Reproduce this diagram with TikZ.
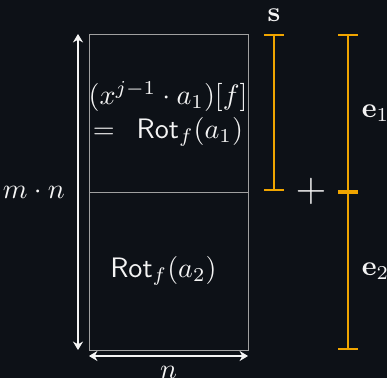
\documentclass[tikz,border=0pt]{standalone}
\usepackage{amsmath,amssymb}
\usepackage{tikz}
\usetikzlibrary{arrows.meta}
\definecolor{bgdark}{HTML}{0D1117}
\definecolor{barorange}{HTML}{F0A500}
\definecolor{cellgray}{HTML}{A0A0A0}
\definecolor{inkwhite}{HTML}{F4F4F4}

\begin{document}
\begin{tikzpicture}[
  x=0.0125cm, y=-0.0125cm,
  cell/.style={draw=cellgray, line width=0.35pt},
  dim/.style={{Stealth[length=3pt,width=3.6pt]}-{Stealth[length=3pt,width=3.6pt]},
              draw=inkwhite, line width=0.4pt},
  bar/.style={{Bar[width=6.8pt]}-{Bar[width=6.8pt]}, draw=barorange, line width=0.8pt},
  lbl/.style={text=inkwhite, inner sep=1pt}
]
\fill[bgdark] (0,0) rectangle (387,378);
\useasboundingbox (0,0) rectangle (387,378);

% the matrix and its two cells
\coordinate (tl) at (89,34);
\coordinate (ml) at (89,192);
\coordinate (mr) at (248,192);
\coordinate (br) at (248,350);
\draw[cell] (tl) rectangle (br);
\draw[cell] (ml) -- (mr);

\node[lbl, align=center] (cellone) at (168,114)
  {$(x^{j-1}\cdot a_1)[f]$\\$=\ \,\mathsf{Rot}_f(a_1)$};
\node[lbl] (celltwo) at (163.5,271) {$\mathsf{Rot}_f(a_2)$};

% dimensions
\coordinate (hTop) at (78,34);
\coordinate (hBot) at (78,350);
\draw[dim] (hTop) -- node[lbl, left=3.5pt] (height) {$m\cdot n$} (hBot);

\coordinate (wL) at (89,356);
\coordinate (wR) at (248,356);
\draw[dim] (wL) -- node[lbl, below=2.5pt] (width) {$n$} (wR);

% s + e
\coordinate (sTop) at (274,34);
\coordinate (sBot) at (274,191);
\draw[bar] (sTop) -- (sBot);
\node[lbl] (slabel) at (274,15) {$\mathbf{s}$};

\node[lbl] (plus) at (311,191) {\Large$+$};

\coordinate (eTop) at (348,34);
\coordinate (eMid) at (348,192);
\coordinate (eBot) at (348,350);
\draw[bar] (eTop) -- node[lbl, right=3.5pt] (eone) {$\mathbf{e}_1$} (eMid);
\draw[bar] (eMid) -- node[lbl, right=3.5pt] (etwo) {$\mathbf{e}_2$} (eBot);
\end{tikzpicture}
\end{document}
